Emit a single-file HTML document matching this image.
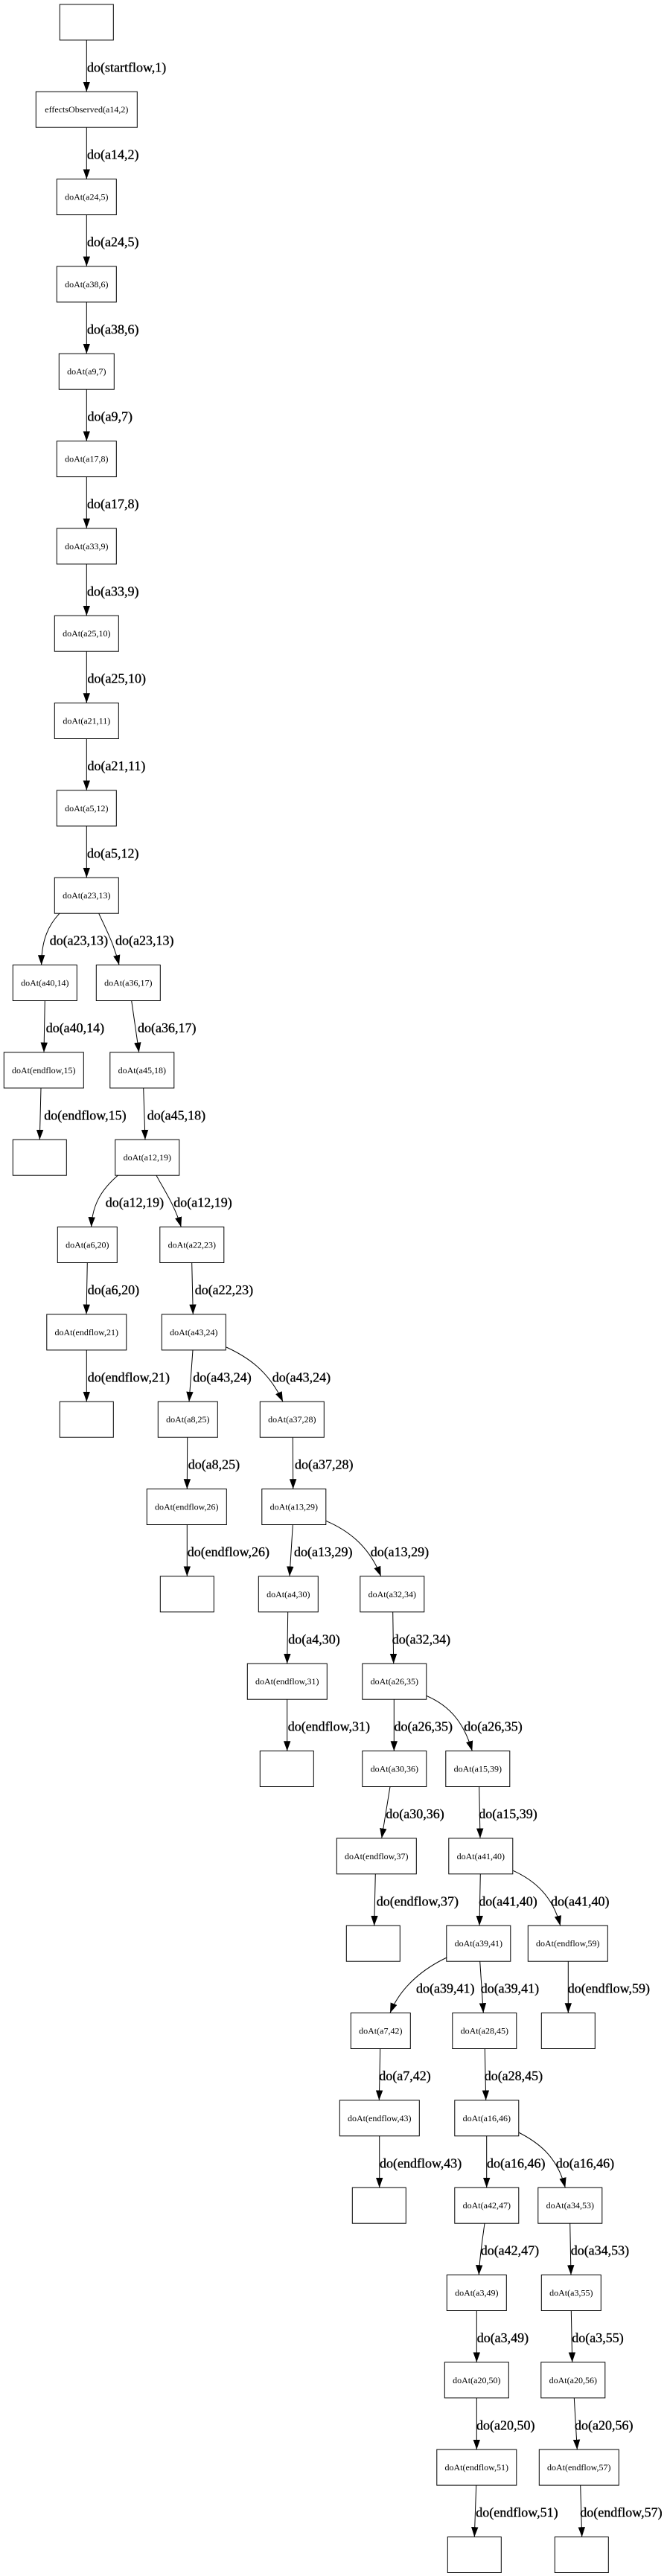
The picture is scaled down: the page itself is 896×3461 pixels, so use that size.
<!DOCTYPE html>
<html><head><meta charset="utf-8"><style>
html,body{margin:0;padding:0;background:#fff;}
svg{display:block;}
.n{fill:#fff;stroke:#000;stroke-width:1;}
.t{font-family:"Liberation Serif","Times New Roman",serif;font-size:12px;text-anchor:middle;fill:#000;}
.l{font-family:"Liberation Serif","Times New Roman",serif;font-size:18px;fill:#000;stroke:#000;stroke-width:0.35;}
.e{fill:none;stroke:#000;stroke-width:1;marker-end:url(#a);}
</style></head><body>
<svg width="896" height="3461" viewBox="0 0 896 3461" xmlns="http://www.w3.org/2000/svg">
<defs><marker id="a" markerUnits="userSpaceOnUse" markerWidth="14" markerHeight="10" refX="13.3" refY="5" orient="auto" viewBox="0 0 14 10"><path d="M0,0.3 L13.3,5 L0,9.7z" fill="#000"/></marker></defs>
<rect width="896" height="3461" fill="#fff"/>

<!-- nodes -->
<rect class="n" x="80.3" y="5.9" width="72" height="48"/>
<rect class="n" x="48.3" y="123.2" width="136" height="48"/><text class="t" x="116.3" y="151.2">effectsObserved(a14,2)</text>
<rect class="n" x="76.3" y="240.6" width="80" height="48"/><text class="t" x="116.3" y="268.6">doAt(a24,5)</text>
<rect class="n" x="76.3" y="357.9" width="80" height="48"/><text class="t" x="116.3" y="385.9">doAt(a38,6)</text>
<rect class="n" x="79.3" y="475.2" width="74" height="48"/><text class="t" x="116.3" y="503.2">doAt(a9,7)</text>
<rect class="n" x="76.3" y="592.6" width="80" height="48"/><text class="t" x="116.3" y="620.6">doAt(a17,8)</text>
<rect class="n" x="76.3" y="709.9" width="80" height="48"/><text class="t" x="116.3" y="737.9">doAt(a33,9)</text>
<rect class="n" x="73.3" y="827.2" width="86" height="48"/><text class="t" x="116.3" y="855.2">doAt(a25,10)</text>
<rect class="n" x="73.3" y="944.5" width="86" height="48"/><text class="t" x="116.3" y="972.5">doAt(a21,11)</text>
<rect class="n" x="76.3" y="1061.9" width="80" height="48"/><text class="t" x="116.3" y="1089.9">doAt(a5,12)</text>
<rect class="n" x="73.3" y="1179.2" width="86" height="48"/><text class="t" x="116.3" y="1207.2">doAt(a23,13)</text>

<rect class="n" x="17.3" y="1296.5" width="86" height="48"/><text class="t" x="60.3" y="1324.5">doAt(a40,14)</text>
<rect class="n" x="129.3" y="1296.5" width="86" height="48"/><text class="t" x="172.3" y="1324.5">doAt(a36,17)</text>

<rect class="n" x="5.3" y="1413.9" width="107" height="48"/><text class="t" x="58.8" y="1441.9">doAt(endflow,15)</text>
<rect class="n" x="147.8" y="1413.9" width="86" height="48"/><text class="t" x="190.8" y="1441.9">doAt(a45,18)</text>

<rect class="n" x="17.3" y="1531.2" width="72" height="48"/>
<rect class="n" x="154.8" y="1531.2" width="86" height="48"/><text class="t" x="197.8" y="1559.2">doAt(a12,19)</text>

<rect class="n" x="77.3" y="1648.5" width="80" height="48"/><text class="t" x="117.3" y="1676.5">doAt(a6,20)</text>
<rect class="n" x="214.8" y="1648.5" width="86" height="48"/><text class="t" x="257.8" y="1676.5">doAt(a22,23)</text>

<rect class="n" x="62.8" y="1765.9" width="107" height="48"/><text class="t" x="116.3" y="1793.9">doAt(endflow,21)</text>
<rect class="n" x="217.3" y="1765.9" width="86" height="48"/><text class="t" x="260.3" y="1793.9">doAt(a43,24)</text>

<rect class="n" x="80.3" y="1883.2" width="72" height="48"/>
<rect class="n" x="212.3" y="1883.2" width="80" height="48"/><text class="t" x="252.3" y="1911.2">doAt(a8,25)</text>
<rect class="n" x="349.3" y="1883.2" width="86" height="48"/><text class="t" x="392.3" y="1911.2">doAt(a37,28)</text>

<rect class="n" x="197.3" y="2000.5" width="107" height="48"/><text class="t" x="250.8" y="2028.5">doAt(endflow,26)</text>
<rect class="n" x="351.8" y="2000.5" width="86" height="48"/><text class="t" x="394.8" y="2028.5">doAt(a13,29)</text>

<rect class="n" x="215.3" y="2117.8" width="72" height="48"/>
<rect class="n" x="347.3" y="2117.8" width="80" height="48"/><text class="t" x="387.3" y="2145.8">doAt(a4,30)</text>
<rect class="n" x="483.8" y="2117.8" width="86" height="48"/><text class="t" x="526.8" y="2145.8">doAt(a32,34)</text>

<rect class="n" x="332.3" y="2235.2" width="107" height="48"/><text class="t" x="385.8" y="2263.2">doAt(endflow,31)</text>
<rect class="n" x="486.8" y="2235.2" width="86" height="48"/><text class="t" x="529.8" y="2263.2">doAt(a26,35)</text>

<rect class="n" x="349.3" y="2352.5" width="72" height="48"/>
<rect class="n" x="486.8" y="2352.5" width="86" height="48"/><text class="t" x="529.8" y="2380.5">doAt(a30,36)</text>
<rect class="n" x="598.8" y="2352.5" width="86" height="48"/><text class="t" x="641.8" y="2380.5">doAt(a15,39)</text>

<rect class="n" x="452.3" y="2469.8" width="107" height="48"/><text class="t" x="505.8" y="2497.8">doAt(endflow,37)</text>
<rect class="n" x="602.8" y="2469.8" width="86" height="48"/><text class="t" x="645.8" y="2497.8">doAt(a41,40)</text>

<rect class="n" x="465.3" y="2587.2" width="72" height="48"/>
<rect class="n" x="599.8" y="2587.2" width="86" height="48"/><text class="t" x="642.8" y="2615.2">doAt(a39,41)</text>
<rect class="n" x="709.3" y="2587.2" width="107" height="48"/><text class="t" x="762.8" y="2615.2">doAt(endflow,59)</text>

<rect class="n" x="471.3" y="2704.5" width="80" height="48"/><text class="t" x="511.3" y="2732.5">doAt(a7,42)</text>
<rect class="n" x="607.8" y="2704.5" width="86" height="48"/><text class="t" x="650.8" y="2732.5">doAt(a28,45)</text>
<rect class="n" x="727.3" y="2704.5" width="72" height="48"/>

<rect class="n" x="456.3" y="2821.8" width="107" height="48"/><text class="t" x="509.8" y="2849.8">doAt(endflow,43)</text>
<rect class="n" x="610.8" y="2821.8" width="86" height="48"/><text class="t" x="653.8" y="2849.8">doAt(a16,46)</text>

<rect class="n" x="473.3" y="2939.2" width="72" height="48"/>
<rect class="n" x="610.8" y="2939.2" width="86" height="48"/><text class="t" x="653.8" y="2967.2">doAt(a42,47)</text>
<rect class="n" x="722.8" y="2939.2" width="86" height="48"/><text class="t" x="765.8" y="2967.2">doAt(a34,53)</text>

<rect class="n" x="600.3" y="3056.5" width="80" height="48"/><text class="t" x="640.3" y="3084.5">doAt(a3,49)</text>
<rect class="n" x="727.3" y="3056.5" width="80" height="48"/><text class="t" x="767.3" y="3084.5">doAt(a3,55)</text>

<rect class="n" x="597.3" y="3173.8" width="86" height="48"/><text class="t" x="640.3" y="3201.8">doAt(a20,50)</text>
<rect class="n" x="726.8" y="3173.8" width="86" height="48"/><text class="t" x="769.8" y="3201.8">doAt(a20,56)</text>

<rect class="n" x="586.8" y="3291.1" width="107" height="48"/><text class="t" x="640.3" y="3319.1">doAt(endflow,51)</text>
<rect class="n" x="724.3" y="3291.1" width="107" height="48"/><text class="t" x="777.8" y="3319.1">doAt(endflow,57)</text>

<rect class="n" x="601.3" y="3408.5" width="72" height="48"/>
<rect class="n" x="745.3" y="3408.5" width="72" height="48"/>

<!-- edges -->
<path class="e" d="M116.3,53.9 L116.3,123.2"/>
<path class="e" d="M116.3,171.2 L116.3,240.6"/>
<path class="e" d="M116.3,288.6 L116.3,357.9"/>
<path class="e" d="M116.3,405.9 L116.3,475.2"/>
<path class="e" d="M116.3,523.2 L116.3,592.6"/>
<path class="e" d="M116.3,640.6 L116.3,709.9"/>
<path class="e" d="M116.3,757.9 L116.3,827.2"/>
<path class="e" d="M116.3,875.2 L116.3,944.5"/>
<path class="e" d="M116.3,992.5 L116.3,1061.9"/>
<path class="e" d="M116.3,1109.9 L116.3,1179.2"/>

<path class="e" d="M80,1227.2 C66,1242 55.5,1262 55.7,1296.5"/>
<path class="e" d="M132.7,1227.2 C142,1248 152,1265 160,1296.5"/>

<path class="e" d="M60.3,1344.5 L59,1413.9"/>
<path class="e" d="M176.7,1344.5 L186.7,1413.9"/>

<path class="e" d="M55,1461.9 L53.3,1531.2"/>
<path class="e" d="M192.7,1461.9 L195,1531.2"/>

<path class="e" d="M158.3,1579.2 C140,1595 124,1615 122.7,1648.5"/>
<path class="e" d="M210,1579.2 C220,1598 235,1620 243.3,1648.5"/>

<path class="e" d="M117.3,1696.5 L116,1765.9"/>
<path class="e" d="M257.7,1696.5 L259.3,1765.9"/>

<path class="e" d="M116.3,1813.9 L116.3,1883.2"/>
<path class="e" d="M259,1813.9 L254,1883.2"/>
<path class="e" d="M304,1810 C330,1822 360,1840 380,1883.2"/>

<path class="e" d="M251.7,1931.2 L251.3,2000.5"/>
<path class="e" d="M393.3,1931.2 L393.7,2000.5"/>

<path class="e" d="M251.3,2048.5 L251.3,2117.8"/>
<path class="e" d="M393.3,2048.5 L389,2117.8"/>
<path class="e" d="M437.7,2043.3 C465,2055 495,2075 511.7,2117.8"/>

<path class="e" d="M386.7,2165.8 L385.7,2235.2"/>
<path class="e" d="M527.7,2165.8 L528.7,2235.2"/>

<path class="e" d="M385.7,2283.2 L385.7,2352.5"/>
<path class="e" d="M529.3,2283.2 L529.3,2352.5"/>
<path class="e" d="M572.7,2278.3 C600,2290 622,2310 634.3,2352.5"/>

<path class="e" d="M524,2400.5 L512.7,2469.8"/>
<path class="e" d="M643.7,2400.5 L645,2469.8"/>

<path class="e" d="M504.3,2517.8 L502.7,2587.2"/>
<path class="e" d="M645.3,2517.8 L644,2587.2"/>
<path class="e" d="M689.3,2513.3 C715,2525 742,2545 752.7,2587.2"/>

<path class="e" d="M600.3,2630 C575,2642 540,2665 524,2704.5"/>
<path class="e" d="M644.7,2635.2 L649.3,2704.5"/>
<path class="e" d="M763.3,2635.2 L763.3,2704.5"/>

<path class="e" d="M510.7,2752.5 L509.3,2821.8"/>
<path class="e" d="M651.3,2752.5 L652.7,2821.8"/>

<path class="e" d="M509.7,2869.8 L509.7,2939.2"/>
<path class="e" d="M653.7,2869.8 L653.7,2939.2"/>
<path class="e" d="M696.7,2865 C720,2877 748,2895 759.3,2939.2"/>

<path class="e" d="M651,2987.2 C648,3010 644,3035 643.3,3056.5"/>
<path class="e" d="M765.7,2987.2 L767,3056.5"/>

<path class="e" d="M640.3,3104.5 L640.3,3173.8"/>
<path class="e" d="M767.3,3104.5 L768.7,3173.8"/>

<path class="e" d="M640.3,3221.8 L640.3,3291.1"/>
<path class="e" d="M771.3,3221.8 L775.3,3291.1"/>

<path class="e" d="M639.7,3339.1 L637.3,3408.5"/>
<path class="e" d="M779.7,3339.1 L781.7,3408.5"/>

<!-- edge labels -->
<text class="l" x="117" y="96.4">do(startflow,1)</text>
<text class="l" x="117" y="213.7">do(a14,2)</text>
<text class="l" x="117" y="331.1">do(a24,5)</text>
<text class="l" x="117" y="448.4">do(a38,6)</text>
<text class="l" x="117.5" y="565.7">do(a9,7)</text>
<text class="l" x="117" y="683.1">do(a17,8)</text>
<text class="l" x="117" y="800.4">do(a33,9)</text>
<text class="l" x="117.5" y="917.7">do(a25,10)</text>
<text class="l" x="117.5" y="1035">do(a21,11)</text>
<text class="l" x="117" y="1152.4">do(a5,12)</text>

<text class="l" x="66.7" y="1269.7">do(a23,13)</text>
<text class="l" x="155" y="1269.7">do(a23,13)</text>

<text class="l" x="61.7" y="1387">do(a40,14)</text>
<text class="l" x="185" y="1387">do(a36,17)</text>

<text class="l" x="59.3" y="1504.4">do(endflow,15)</text>
<text class="l" x="197.7" y="1504.4">do(a45,18)</text>

<text class="l" x="141.7" y="1621.7">do(a12,19)</text>
<text class="l" x="233.3" y="1621.7">do(a12,19)</text>

<text class="l" x="117.7" y="1739">do(a6,20)</text>
<text class="l" x="261.7" y="1739">do(a22,23)</text>

<text class="l" x="117.7" y="1856.4">do(endflow,21)</text>
<text class="l" x="259.3" y="1856.4">do(a43,24)</text>
<text class="l" x="365.7" y="1856.4">do(a43,24)</text>

<text class="l" x="252.7" y="1973.7">do(a8,25)</text>
<text class="l" x="396" y="1973.7">do(a37,28)</text>

<text class="l" x="251.7" y="2091">do(endflow,26)</text>
<text class="l" x="395" y="2091">do(a13,29)</text>
<text class="l" x="497.7" y="2091">do(a13,29)</text>

<text class="l" x="387.3" y="2208.3">do(a4,30)</text>
<text class="l" x="526.7" y="2208.3">do(a32,34)</text>

<text class="l" x="386.7" y="2325.7">do(endflow,31)</text>
<text class="l" x="529.5" y="2325.7">do(a26,35)</text>
<text class="l" x="623.3" y="2325.7">do(a26,35)</text>

<text class="l" x="518.3" y="2443">do(a30,36)</text>
<text class="l" x="643.3" y="2443">do(a15,39)</text>

<text class="l" x="505.7" y="2560.3">do(endflow,37)</text>
<text class="l" x="643.3" y="2560.3">do(a41,40)</text>
<text class="l" x="740" y="2560.3">do(a41,40)</text>

<text class="l" x="559" y="2677.7">do(a39,41)</text>
<text class="l" x="645.7" y="2677.7">do(a39,41)</text>
<text class="l" x="762.7" y="2677.7">do(endflow,59)</text>

<text class="l" x="509.3" y="2795">do(a7,42)</text>
<text class="l" x="650.7" y="2795">do(a28,45)</text>

<text class="l" x="510" y="2912.3">do(endflow,43)</text>
<text class="l" x="654" y="2912.3">do(a16,46)</text>
<text class="l" x="746.7" y="2912.3">do(a16,46)</text>

<text class="l" x="645.7" y="3029.7">do(a42,47)</text>
<text class="l" x="766.7" y="3029.7">do(a34,53)</text>

<text class="l" x="640.7" y="3147">do(a3,49)</text>
<text class="l" x="768.3" y="3147">do(a3,55)</text>

<text class="l" x="640" y="3264.3">do(a20,50)</text>
<text class="l" x="772" y="3264.3">do(a20,56)</text>

<text class="l" x="639.3" y="3381.6">do(endflow,51)</text>
<text class="l" x="779.3" y="3381.6">do(endflow,57)</text>
</svg>
</body></html>
